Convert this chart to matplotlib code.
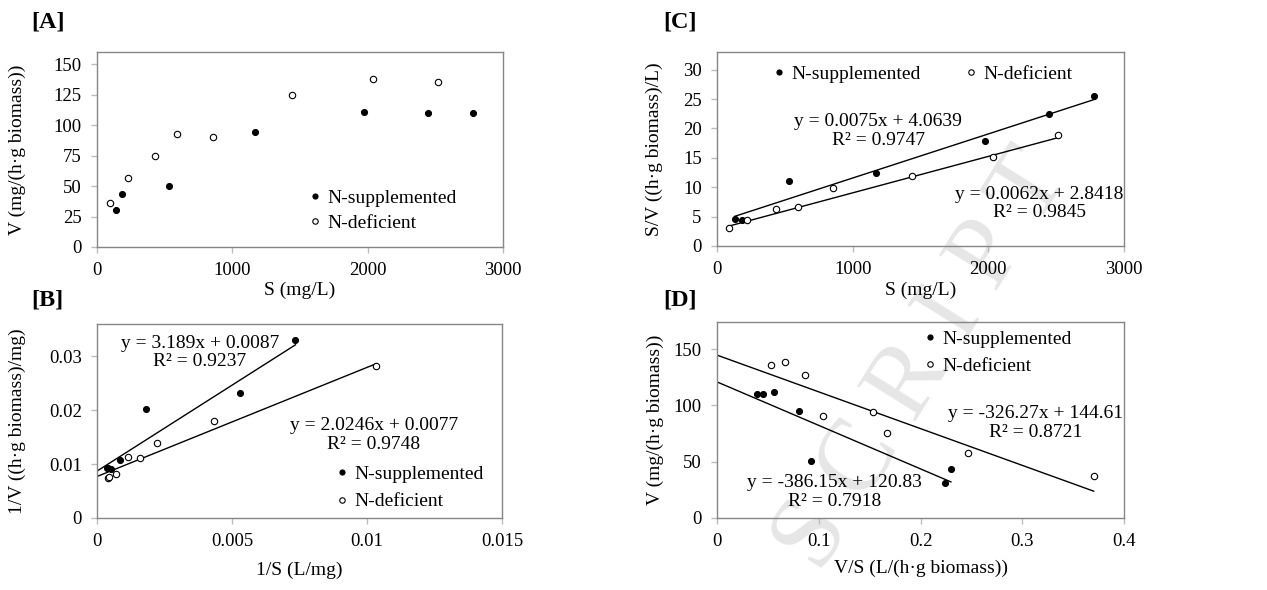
import numpy as np
import matplotlib
matplotlib.use('Agg')
from matplotlib import pyplot as plt
from matplotlib.ticker import FuncFormatter

plt.rcParams['font.family'] = ['Liberation Serif', 'DejaVu Serif']
plt.rcParams['font.size'] = 13.5

# [A] V vs S
a_sup_x = [138, 187, 529, 1170, 1975, 2449, 2779]
a_sup_y = [30.2, 43.3, 49.9, 94.0, 110.8, 109.7, 109.7]
a_def_x = [93, 229, 430, 593, 858, 1438, 2038, 2520]
a_def_y = [36.5, 56.8, 74.3, 92.7, 90.0, 124.8, 137.9, 135.5]

# [B] 1/V vs 1/S
b_sup_x = [0.00036, 0.00041, 0.00052, 0.00085, 0.00183, 0.00528, 0.00735]
b_sup_y = [0.0092, 0.0093, 0.0091, 0.0107, 0.0202, 0.0232, 0.0331]
b_def_x = [0.0004, 0.00046, 0.0007, 0.00115, 0.00161, 0.00222, 0.00433, 0.01034]
b_def_y = [0.0074, 0.00755, 0.0082, 0.01132, 0.01107, 0.01385, 0.01793, 0.02814]

# [C] S/V vs S
c_sup_x = [130, 186, 530, 1172, 1975, 2445, 2779]
c_sup_y = [4.65, 4.48, 11.0, 12.5, 17.9, 22.5, 25.5]
c_def_x = [86, 223, 432, 596, 858, 1435, 2036, 2517]
c_def_y = [3.06, 4.42, 6.3, 6.7, 9.9, 11.85, 15.1, 18.9]

# [D] V vs V/S
d_sup_x = [0.0392, 0.0448, 0.0556, 0.0801, 0.0926, 0.2244, 0.2299]
d_sup_y = [110.4, 110.4, 111.5, 95.3, 50.6, 30.8, 43.8]
d_def_x = [0.0527, 0.067, 0.086, 0.104, 0.1537, 0.1671, 0.2469, 0.3702]
d_def_y = [135.8, 138.8, 126.6, 90.8, 93.8, 75.1, 58.0, 37.0]

# trendlines (slope, intercept) : [N-supplemented, N-deficient]
b_fit = [(3.189, 0.0087), (2.0246, 0.0077)]
c_fit = [(0.0075, 4.0639), (0.0062, 2.8418)]
d_fit = [(-386.15, 120.83), (-326.27, 144.61)]
b_eq = ['y = 3.189x + 0.0087\nR² = 0.9237', 'y = 2.0246x + 0.0077\nR² = 0.9748']
c_eq = ['y = 0.0075x + 4.0639\nR² = 0.9747', 'y = 0.0062x + 2.8418\nR² = 0.9845']
d_eq = ['y = -386.15x + 120.83\nR² = 0.7918', 'y = -326.27x + 144.61\nR² = 0.8721']

labels = ['N-supplemented', 'N-deficient']

W, H = 1267, 590
fig = plt.figure(figsize=(W / 100, H / 100), dpi=100)

# faint watermark, kept behind the (transparent) axes
fig.text(820 / W, 1 - 574 / H, 'S C R I P T', fontsize=74, color='#e6e6e6',
         rotation=58, rotation_mode='anchor', ha='left', va='baseline', zorder=-1)


def px_axes(l, t, r, b):
    ax = fig.add_axes([l / W, 1 - b / H, (r - l) / W, (b - t) / H])
    ax.set_facecolor('none')
    return ax


def style(ax, xlim, ylim, xt, yt):
    ax.set_xlim(*xlim)
    ax.set_ylim(*ylim)
    ax.set_xticks(xt)
    ax.set_yticks(yt)
    fmt = FuncFormatter(lambda v, p: '%g' % round(v, 6))
    ax.xaxis.set_major_formatter(fmt)
    ax.yaxis.set_major_formatter(fmt)
    for s in ax.spines.values():
        s.set_color('#868686')
        s.set_linewidth(1.0)
    ax.tick_params(direction='out', length=4, width=1, color='#bdbdbd', pad=7,
                   labelsize=13.5)


def scatter(ax, sx, sy, dx, dy):
    ax.plot(sx, sy, 'o', ms=4.3, mfc='black', mec='black', mew=0.8,
            label=labels[0], zorder=3)
    ax.plot(dx, dy, 'o', ms=4.6, mfc='white', mec='black', mew=0.8,
            label=labels[1], zorder=3)


def trend(ax, fit, x0, x1):
    xs = np.array([x0, x1])
    ax.plot(xs, fit[0] * xs + fit[1], color='black', lw=1.0, zorder=2)


def legend(ax, x, y, ncol=1, spacing=0.35):
    ax.legend(loc='center left', bbox_to_anchor=(x, y), ncol=ncol, frameon=False,
              handlelength=0.6, handletextpad=0.35, borderpad=0, borderaxespad=0,
              labelspacing=spacing, columnspacing=2.3, markerscale=0.85,
              fontsize=14)


def labels_xy(ax, xl, yl, xly, ylx):
    ax.set_xlabel(xl, fontsize=14)
    ax.set_ylabel(yl, fontsize=14)
    ax.xaxis.set_label_coords(0.5, xly)
    ax.yaxis.set_label_coords(ylx, 0.5)
    ax.xaxis.label.set_verticalalignment('center')
    ax.yaxis.label.set_verticalalignment('center')


def eq(ax, x, y, s):
    ax.text(x, y, s, transform=ax.transAxes, ha='center', va='center',
            multialignment='center', fontsize=14, linespacing=1.15)


# [A]
axA = px_axes(97, 52, 503, 247)
scatter(axA, a_sup_x, a_sup_y, a_def_x, a_def_y)
style(axA, (0, 3000), (0, 160), [0, 1000, 2000, 3000], np.arange(0, 151, 25))
legend(axA, 0.523, 0.187)
labels_xy(axA, 'S (mg/L)', 'V (mg/(h·g biomass))', -0.22, -0.197)

# [C]
axC = px_axes(717, 52, 1124, 246)
scatter(axC, c_sup_x, c_sup_y, c_def_x, c_def_y)
trend(axC, c_fit[0], min(c_sup_x), max(c_sup_x))
trend(axC, c_fit[1], min(c_def_x), max(c_def_x))
style(axC, (0, 3000), (0, 33), [0, 1000, 2000, 3000], np.arange(0, 31, 5))
legend(axC, 0.137, 0.887, ncol=2)
eq(axC, 0.396, 0.593, c_eq[0])
eq(axC, 0.792, 0.219, c_eq[1])
labels_xy(axC, 'S (mg/L)', 'S/V ((h·g biomass)/L)', -0.227, -0.154)

# [B]
axB = px_axes(97, 324, 502, 518)
scatter(axB, b_sup_x, b_sup_y, b_def_x, b_def_y)
trend(axB, b_fit[0], 0, max(b_sup_x))
trend(axB, b_fit[1], 0, max(b_def_x))
style(axB, (0, 0.015), (0, 0.036), [0, 0.005, 0.01, 0.015], [0, 0.01, 0.02, 0.03])
legend(axB, 0.591, 0.155, spacing=0.5)
eq(axB, 0.254, 0.853, b_eq[0])
eq(axB, 0.684, 0.428, b_eq[1])
labels_xy(axB, '1/S (L/mg)', '1/V ((h·g biomass)/mg)', -0.268, -0.197)

# [D]
axD = px_axes(717, 322, 1124, 518)
scatter(axD, d_sup_x, d_sup_y, d_def_x, d_def_y)
trend(axD, d_fit[0], 0, max(d_sup_x))
trend(axD, d_fit[1], 0, max(d_def_x))
style(axD, (0, 0.4), (0, 174), [0, 0.1, 0.2, 0.3, 0.4], [0, 50, 100, 150])
legend(axD, 0.508, 0.845, spacing=0.5)
eq(axD, 0.782, 0.486, d_eq[1])
eq(axD, 0.288, 0.134, d_eq[0])
labels_xy(axD, 'V/S (L/(h·g biomass))', 'V (mg/(h·g biomass))', -0.257, -0.152)

# panel tags
for tag, x, y in [('[A]', 31, 22), ('[B]', 31, 300), ('[C]', 663, 22), ('[D]', 663, 300)]:
    fig.text(x / W, 1 - y / H, tag, fontsize=17.5, fontweight='bold',
             ha='left', va='center')

fig.savefig('out.png', dpi=100)
